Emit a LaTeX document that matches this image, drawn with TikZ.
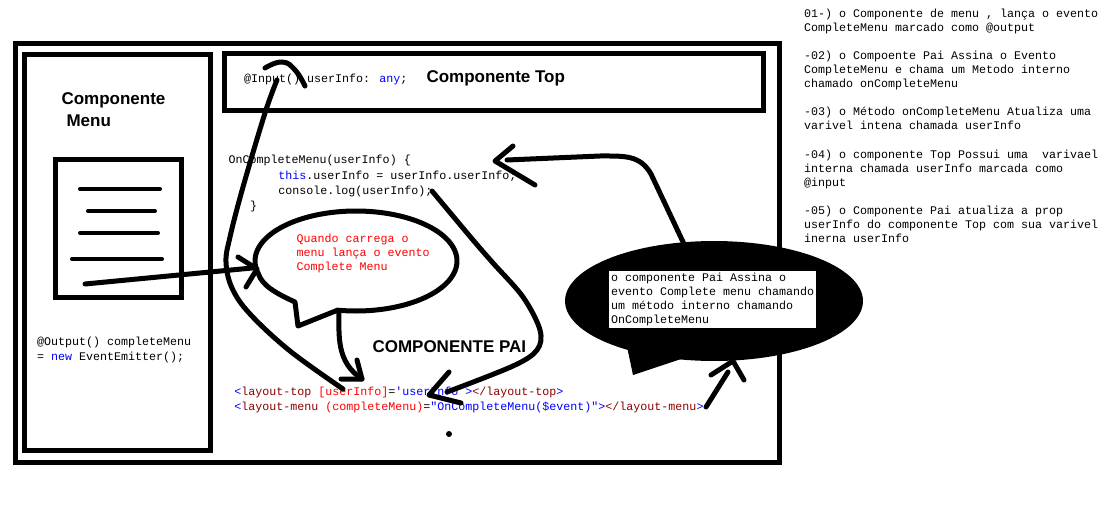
\documentclass[tikz,border=0pt]{standalone}
\usepackage{fontspec}
\setmainfont{Liberation Sans}
\newfontfamily\codefont{Liberation Mono}
\definecolor{tagred}{HTML}{8B0000}
\definecolor{kw}{HTML}{0000FF}
\definecolor{attr}{HTML}{FF0000}
\tikzset{
  codeline/.style={anchor=base west,inner sep=0pt,outer sep=0pt,font=\codefont\fontsize{11.67}{14}\selectfont,text=black},
  redline/.style={codeline,text=red},
  title/.style={anchor=base west,inner sep=0pt,outer sep=0pt,font=\bfseries\fontsize{17}{20}\selectfont},
  frame/.style={draw=black,line width=4.6pt,fill=none},
  ink/.style={draw=black,line width=5pt,line cap=round,line join=round},
  thin ink/.style={draw=black,line width=4pt,line cap=round,line join=round},
}
\begin{document}
\begin{tikzpicture}[x=1pt,y=-1pt]
\useasboundingbox[fill=white] (0,0) rectangle (1113,516);
% frames
\draw[frame] (15.3,43.3) rectangle (779.4,462.6);
\draw[frame] (24.3,54.3) rectangle (210.7,450.7);
\draw[frame] (224.3,53.3) rectangle (763.7,110.7);
\draw[frame] (55.3,159.3) rectangle (181.7,297.7);
% titles
\node[title] (tmenu1) at (61.5,105) {Componente};
\node[title] (tmenu2) at (66.5,127) {Menu};
\node[title] (ttop) at (426.5,83) {Componente Top};
\node[title] (tpai) at (372.5,352) {COMPONENTE PAI};
% document lines
\coordinate (l1a) at (80,189); \coordinate (l1b) at (160,189);
\coordinate (l2a) at (88,211); \coordinate (l2b) at (155,211);
\coordinate (l3a) at (80,233); \coordinate (l3b) at (158,233);
\coordinate (l4a) at (72,259); \coordinate (l4b) at (162,259);
\draw[thin ink] (l1a)--(l1b) (l2a)--(l2b) (l3a)--(l3b) (l4a)--(l4b);
% code
\node[codeline] (input) at (244,83) {@Input() userInfo: \textcolor{kw}{any};};
\node[codeline] (m1) at (228.7,164) {OnCompleteMenu(userInfo) \{};
\node[codeline] (m2) at (278.3,179) {\textcolor{kw}{this}.userInfo = userInfo.userInfo;};
\node[codeline] (m3) at (278.3,194) {console.log(userInfo);};
\node[codeline] (m4) at (250,209) {\}};
\node[codeline] (o1) at (37,345) {@Output() completeMenu};
\node[codeline] (o2) at (37,360) {= \textcolor{kw}{new} EventEmitter();};
\node[codeline] (lt) at (234.3,395) {\textcolor{kw}{<}\textcolor{tagred}{layout-top} \textcolor{attr}{[userInfo]}=\textcolor{kw}{'userInfo >}\textcolor{tagred}{</layout-top}\textcolor{kw}{>}};
\node[codeline] (lm) at (234.3,410) {\textcolor{kw}{<}\textcolor{tagred}{layout-menu} \textcolor{attr}{(completeMenu)}=\textcolor{kw}{"OnCompleteMenu(\$event)">}\textcolor{tagred}{</layout-menu}\textcolor{kw}{>}};
\node[redline] (r1) at (296.7,242) {Quando carrega o};
\node[redline] (r2) at (296.7,256) {menu lança o evento};
\node[redline] (r3) at (296.7,270) {Complete Menu};
% black bubble
\fill[black] plot[domain=0:360,samples=120] ({714+149*cos(\x)},{301+60*sin(\x)});
\coordinate (bt1) at (626,342); \coordinate (bt2) at (633,375); \coordinate (bt3) at (690,356);
\fill[black] (bt1)--(bt2)--(bt3)--cycle;
\node[fill=white,anchor=north west,minimum width=207pt,minimum height=57pt,inner sep=0pt,outer sep=0pt] (wbox) at (609,271) {};
\node[codeline] (w1) at (611,281) {o componente Pai Assina o};
\node[codeline] (w2) at (611,295) {evento Complete menu chamando};
\node[codeline] (w3) at (611,309) {um método interno chamando};
\node[codeline] (w4) at (611,323) {OnCompleteMenu};
% white bubble
\draw[ink] plot[domain=100:-195,samples=120] ({356+101*cos(\x)},{261+50*sin(\x)})
  .. controls (262,285) and (275,293) .. (295,302) -- (298,326) -- (338,310) -- cycle;
% arrow doc -> bubble
\coordinate (a1s) at (85,284); \coordinate (a1e) at (252,268);
\draw[ink] (a1s)--(a1e);
\draw[ink] (238,257)--(257,269)--(246,287);
% bubble -> layout-top
\coordinate (a2s) at (339,311); \coordinate (a2e) at (362,379);
\draw[ink] (a2s) .. controls (339,335) and (336,362) .. (a2e);
\draw[ink] (341,379)--(a2e)--(357,360);
% big curve
\coordinate (a3s) at (343,389); \coordinate (a3e) at (277,80);
\draw[ink] plot[smooth,tension=0.6] coordinates {(a3s) (290,351) (250,314) (232,288) (226,262) (230,237) (243,187) (265,113) (a3e)};
\draw[ink] plot[smooth,tension=0.8] coordinates {(265,68) (282,62) (295,70) (305,86)};
% console.log -> layout
\coordinate (a4s) at (432,191); \coordinate (a4e) at (447,392);
\draw[ink] plot[smooth,tension=0.55] coordinates {(a4s) (473,240) (493,263) (523,297) (540,330) (537,350) (513,366) (a4e)};
\draw[ink] (449,372)--(429,395)--(461,403);
% black bubble -> method
\coordinate (a5s) at (684,244); \coordinate (a5e) at (507,160);
\draw[ink] (a5s)--(651,174) .. controls (640,155) and (625,156) .. (600,156) -- (a5e);
\draw[ink] (513,146)--(495,161)--(535,185);
% layout-menu -> bubble
\coordinate (a6s) at (706,407); \coordinate (a6e) at (728,372);
\draw[ink] (a6s)--(a6e);
\draw[ink] (711,375)--(733,361)--(744,380);
% dot
\fill[black] (449,434) circle (3);
% notes
\node[codeline] (n1) at (804,18) {01-) o Componente de menu , lança o evento};
\node[codeline] (n2) at (804,32) {CompleteMenu marcado como @output};
\node[codeline] (n3) at (804,60) {-02) o Compoente Pai Assina o Evento};
\node[codeline] (n4) at (804,74) {CompleteMenu e chama um Metodo interno};
\node[codeline] (n5) at (804,88) {chamado onCompleteMenu};
\node[codeline] (n6) at (804,116) {-03) o Método onCompleteMenu Atualiza uma};
\node[codeline] (n7) at (804,130) {varivel intena chamada userInfo};
\node[codeline] (n8) at (804,158) {-04) o componente Top Possui uma\ \ varivael};
\node[codeline] (n9) at (804,172) {interna chamada userInfo marcada como};
\node[codeline] (n10) at (804,186) {@input};
\node[codeline] (n11) at (804,214) {-05) o Componente Pai atualiza a prop};
\node[codeline] (n12) at (804,228) {userInfo do componente Top com sua varivel};
\node[codeline] (n13) at (804,242) {inerna userInfo};
\end{tikzpicture}
\end{document}
